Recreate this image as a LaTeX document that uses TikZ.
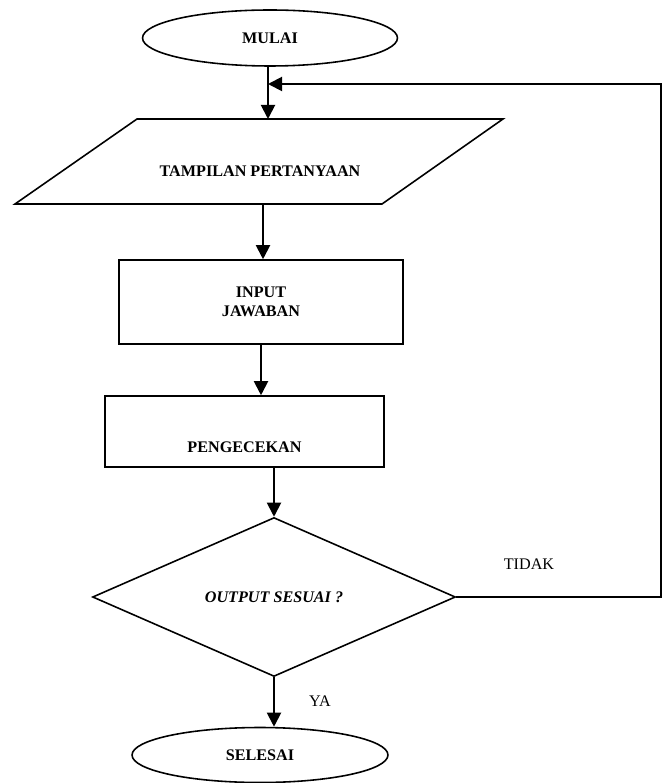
\documentclass[tikz,border=0pt]{standalone}
\usepackage{fontspec}
\setmainfont{Liberation Serif}
\usetikzlibrary{calc,shapes.geometric,arrows.meta}
\def\ukuran{\fontsize{9.2}{11}\selectfont}
\tikzset{
  garis/.style={line width=0.9pt},
  panah/.style={line width=1.1pt,-{Triangle[length=0.28cm,width=0.28cm]}},
  terminal/.style={ellipse,draw,garis,inner sep=0pt,font=\ukuran\bfseries},
  kotak/.style={rectangle,draw,garis,inner sep=0pt,align=center,font=\ukuran\bfseries},
  belah/.style={diamond,draw,garis,inner sep=0pt,font=\ukuran\bfseries\itshape},
  tulisan/.style={font=\ukuran\bfseries}
}
\def\teks{\node[font=\ukuran]}

\begin{document}
\begin{tikzpicture}[x=0.02cm,y=-0.02cm]
\useasboundingbox (0,0) rectangle (665,783);
\node[terminal,minimum width=5.1cm,minimum height=1.12cm] (mulai) at (270,38) {MULAI};
\coordinate (tampil-atas) at (268,119);
\coordinate (tampil-bawah) at (263,204);
\draw[garis] (137,119) -- (503,119) -- (382,204) -- (15,204) -- cycle;
\node[tulisan] (tampil) at (260,171) {TAMPILAN PERTANYAAN};
\node[kotak,minimum width=5.68cm,minimum height=1.68cm] (input) at (261,302) {INPUT\\JAWABAN};
\node[kotak,minimum width=5.58cm,minimum height=1.42cm,label={[tulisan,yshift=-0.32cm]center:PENGECEKAN}] (cek) at (244.5,431.5) {};
\node[belah,minimum width=7.26cm,minimum height=3.18cm] (sesuai) at (274,597) {OUTPUT SESUAI ?};
\node[terminal,minimum width=5.12cm,minimum height=1.1cm] (selesai) at (260,755) {SELESAI};
\coordinate (kanan) at (661,84);
\coordinate (masuk) at (268,84);
\teks (tidak) at (529,564) {TIDAK};
\teks (ya) at (320,701) {YA};
\draw[panah] (mulai.south -| tampil-atas) -- (tampil-atas);
\draw[panah] (tampil-bawah) -- (tampil-bawah |- input.north);
\draw[panah] (input.south) -- (input.south |- cek.north);
\draw[panah] (sesuai.north |- cek.south) -- (sesuai.north);
\draw[panah] (sesuai.south) -- (sesuai.south |- selesai.north);
\draw[panah] (sesuai.east) -| (kanan) -- (masuk);
\end{tikzpicture}
\end{document}
